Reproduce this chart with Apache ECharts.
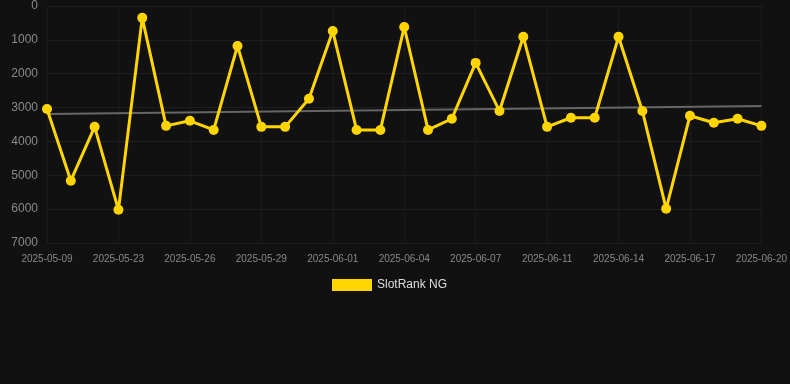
<!DOCTYPE html>
<html>
<head>
<meta charset="utf-8">
<script src="https://cdn.jsdelivr.net/npm/echarts@6/dist/echarts.min.js"></script>
<style>
html,body{margin:0;padding:0;background:#111111;}
#chart{width:790px;height:384px;}
</style>
</head>
<body>
<div id="chart"></div>
<script>
const categories = [
  '2025-05-09','2025-05-14','2025-05-19','2025-05-23','2025-05-24','2025-05-25',
  '2025-05-26','2025-05-27','2025-05-28','2025-05-29','2025-05-30','2025-05-31',
  '2025-06-01','2025-06-02','2025-06-03','2025-06-04','2025-06-05','2025-06-06',
  '2025-06-07','2025-06-08','2025-06-10','2025-06-11','2025-06-12','2025-06-13',
  '2025-06-14','2025-06-15','2025-06-16','2025-06-17','2025-06-18','2025-06-19',
  '2025-06-20'
];
const rankValues = [
  3040, 5160, 3570, 6020, 350, 3540, 3390, 3660, 1180, 3570, 3570,
  2740, 740, 3660, 3660, 620, 3660, 3330, 1680, 3100, 910,
  3570, 3300, 3300, 910, 3100, 5990, 3240, 3450, 3330, 3540
];
const trendStart = 3190;
const trendEnd = 2950;
const yTicks = [0, 1000, 2000, 3000, 4000, 5000, 6000, 7000];

const chart = echarts.init(document.getElementById('chart'));
chart.setOption({
  backgroundColor: '#111111',
  animation: false,
  grid: { left: 47, right: 28, top: 6, bottom: 141 },
  legend: {
    data: ['SlotRank NG'],
    bottom: 88,
    left: 327,
    itemWidth: 40,
    itemHeight: 12,
    icon: 'rect',
    textStyle: { color: '#dddddd', fontSize: 12, fontFamily: 'Liberation Sans, Arial, sans-serif' }
  },
  xAxis: {
    type: 'category',
    data: categories,
    boundaryGap: false,
    axisLine: { show: false },
    axisTick: { show: false },
    axisLabel: { interval: 2, color: '#888888', fontSize: 10, margin: 11, fontFamily: 'Liberation Sans, Arial, sans-serif' },
    splitLine: { show: true, interval: 2, lineStyle: { color: '#1b1b1b', width: 1 } }
  },
  yAxis: {
    type: 'value',
    inverse: true,
    min: yTicks[0],
    max: yTicks[yTicks.length - 1],
    interval: 1000,
    axisLine: { show: false },
    axisTick: { show: false },
    axisLabel: { color: '#8a8a8a', fontSize: 12, margin: 9, fontFamily: 'Liberation Sans, Arial, sans-serif', formatter: v => String(v) },
    splitLine: { lineStyle: { color: '#1e1e1e', width: 1 } }
  },
  series: [
    {
      name: 'SlotRank NG',
      type: 'line',
      data: rankValues,
      color: '#FFD500',
      symbol: 'circle',
      symbolSize: 10,
      lineStyle: { width: 3, color: '#FFD500' },
      itemStyle: { color: '#FFD500' },
      z: 3
    },
    {
      name: 'Trend',
      type: 'line',
      data: [[0, trendStart], [categories.length - 1, trendEnd]],
      symbol: 'none',
      lineStyle: { width: 2, color: '#666666' },
      color: '#666666',
      z: 2
    }
  ]
});
</script>
</body>
</html>
